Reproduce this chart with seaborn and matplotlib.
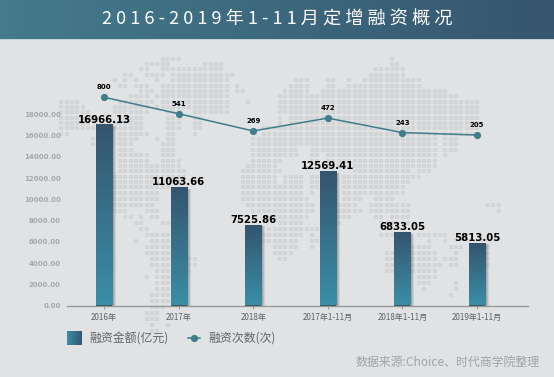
import numpy as np
import pandas as pd
import seaborn as sns
import matplotlib.pyplot as plt
from matplotlib.lines import Line2D
from matplotlib.patches import Rectangle

# values
categories = ["2016年", "2017年", "2018年", "2017年1-11月", "2018年1-11月", "2019年1-11月"]
amounts = [16966.13, 11063.66, 7525.86, 12569.41, 6833.05, 5813.05]
counts = [800, 541, 269, 472, 243, 205]
y_ticks = [0, 2000, 4000, 6000, 8000, 10000, 12000, 14000, 16000, 18000]

title = "2 0 1 6 - 2 0 1 9 年 1 - 1 1 月 定 增 融 资 概 况"
source = "数据来源:Choice、时代商学院整理"

# background world map, one entry per dot row, column spans
map_rows = [
    "30-33 73", "27-31 38-41 73-74", "26-27 30-41 70-75", "23-24 27-30 32-43 69-75",
    "21 23 25 29 32-42 55-57 61-62 65 68-78", "22-23 25-27 30-42 44 54-57 61-62 65-78",
    "26-28 30-42 44-45 53-57 60-83", "24-27 29-42 52-85", "11-14 22-28 30-42 46 52-89",
    "11-15 21-27 29-42 52-89", "11-16 21-27 31-33 36-42 52-89", "11-17 22-26 31-33 36-37 52 54-89",
    "11-16 21-26 31-33 36-37 52 54-89", "11-17 21-26 31-33 36-37 49-89", "11-12 22-27 31-32 36 49-81 83-88",
    "17 22-25 29 31-32 47-81 83-85", "17 22-24 30-32 47-81 83-85", "18 22-24 30-32 47-55 58-81 83-85",
    "22-27 30-32 47-55 58-59 61-81 83", "22-27 30-33 47-52 58-59 61-81", "22-33 46-51 61-81",
    "22-34 45-52 66-76 78-80", "21-34 45-51 53-56 58-59 64-76 77-78", "21-34 45-51 53-56 58-59 64-76",
    "21-31 45-56 58-59 64-75", "21-29 45-56 58 64-75", "21-29 45-57 64-67 70-73",
    "21-28 46-58 63-66 69-76 91-93", "21-23 27-29 47-58 63-67 69-76 93", "23-24 26 28-29 50-57 63-65 70-71 73-76",
    "25-26 30-31 52-56 63 71-76", "26-27 32 50-59", "27-32 49-56 58 71-73 78-83",
    "25 28-32 49-55 58-59 80 83", "27-32 51-55 58 77-80 84-86 91", "27-34 51-54 72-81 85 91",
    "28-36 52-53 72-81 83-85 91", "28-36 72-82 84-85 91", "29-35 72-81", "27 29-34 78-81",
    "29-33 78-80 85", "29-32 79 85", "28-32 84", "28-31", "28-30", "27-29", "27-29", "28 31", "28-29",
]

W, H = 554, 377
bg_color = "#e1e2e4"
teal = "#3f7d8c"
bar_top = np.array([53, 85, 111]) / 255
bar_bottom = np.array([58, 142, 165]) / 255


def gradient(start, end, n=64):
    return np.linspace(start, end, n)


def to_fig(x, y, w, h):
    return [x / W, 1 - (y + h) / H, w / W, h / H]


fig = plt.figure(figsize=(W / 100, H / 100), dpi=100, facecolor=bg_color)
plt.rcParams["font.family"] = ["Noto Sans CJK SC", "DejaVu Sans"]

# banner and dots sit on a pixel-sized axes behind the chart
bg = fig.add_axes([0, 0, 1, 1], zorder=0)
bg.set_xlim(0, W)
bg.set_ylim(H, 0)
bg.axis("off")
banner = gradient(np.array([68, 122, 140]) / 255, np.array([54, 86, 110]) / 255)[None, :, :]
bg.imshow(banner, extent=(0, W, 39, 0), aspect="auto", zorder=1)
bg.set_xlim(0, W)
bg.set_ylim(H, 0)
bg.add_patch(Rectangle((0, 39), W, 1.2, color="#c3d0d6", lw=0, zorder=2))

dots_x, dots_y = [], []
for r, row in enumerate(map_rows):
    y = 58.7 + 5.36 * r if r <= 25 else 192.7 + 6.03 * (r - 25)
    for span in row.split():
        a, b = (span.split("-") + [span])[:2]
        for c in range(int(a), int(b) + 1):
            dots_x.append((16 * c + 8) / 3)
            dots_y.append(y)
bg.scatter(dots_x, dots_y, marker="s", s=7, color="#d3d4d6", linewidths=0, zorder=1)
bg.text(W / 2 + 0.5, 19.5, title, color="white", fontsize=13.1, ha="center", va="center")

# main axes
ax_left, ax_right, ax_top, ax_bottom = 67, 527.7, 60, 305.5
ax = fig.add_axes(to_fig(ax_left, ax_top, ax_right - ax_left, ax_bottom - ax_top), zorder=1)
ax.patch.set_alpha(0)

df = pd.DataFrame({"category": categories, "amount": amounts, "count": counts})
sns.barplot(data=df, x="category", y="amount", width=0.2145, color=bar_top, ax=ax, zorder=3)
ax.set_xlim(-0.496, 5.68)
ax.set_ylim(0, 23138)

# swap the flat bars for a vertical gradient plus a soft shadow on the right
grad = gradient(bar_top, bar_bottom)[:, None, :]
for patch, value in zip(ax.patches, amounts):
    x0, w = patch.get_x(), patch.get_width()
    for i, alpha in enumerate([0.13, 0.16, 0.2, 0.25]):
        off = (4 - i) * 0.0135
        ax.add_patch(Rectangle((x0 + off, 0), w, value - 60, color="#555555", alpha=alpha, lw=0, zorder=2))
    ax.imshow(grad, extent=(x0, x0 + w, 0, value), aspect="auto", zorder=4)
    ax.text(x0 + w / 2, value + 80, f"{value:.2f}", ha="center", va="bottom", color="black",
            fontsize=7.25, fontweight="bold", family="DejaVu Sans", zorder=6)
ax.set_xlim(-0.496, 5.68)
ax.set_ylim(0, 23138)

ax.set_xlabel("")
ax.set_ylabel("")
ax.set_yticks(y_ticks)
ax.set_yticklabels([f"{v:.2f}" for v in y_ticks], fontsize=5, fontweight="bold",
                   color="#a6a7a9", family="DejaVu Sans")
ax.tick_params(axis="y", length=0, pad=4.5)
ax.tick_params(axis="x", length=2, width=0.7, color="#999999", labelsize=5.8, labelcolor="#5f6062", pad=3.5)
sns.despine(ax=ax, left=True)
ax.spines["bottom"].set_color("#999999")
ax.spines["bottom"].set_linewidth(1)

# the count line has its own scale
ax2 = ax.twinx()
ax2.patch.set_alpha(0)
sns.lineplot(data=df, x="category", y="count", sort=False, color=teal, linewidth=1.1, marker="o",
             markersize=5.2, markeredgewidth=0, ax=ax2, zorder=5)
ax2.set_ylim(-2484, 1388)
ax2.axis("off")
for i, c in enumerate(counts):
    ax2.annotate(str(c), (i, c), xytext=(0, 7), textcoords="offset pixels", ha="center", va="bottom",
                 fontsize=5, fontweight="bold", family="DejaVu Sans", color="black")

# legend drawn by hand so the swatch can carry the gradient
swatch = fig.add_axes(to_fig(67, 331, 14.5, 14), zorder=2)
swatch.imshow(gradient(bar_bottom, bar_top)[None, :, :], aspect="auto")
swatch.axis("off")
fig.text(89 / W, 1 - 338.5 / H, "融资金额(亿元)", fontsize=8.6, color="#636466", va="center")
fig.add_artist(Line2D([187.5 / W, 200 / W], [1 - 338 / H] * 2, color=teal, lw=1.1))
fig.add_artist(Line2D([193.7 / W], [1 - 338 / H], color=teal, marker="o", ms=5.2, mew=0))
fig.text(208.5 / W, 1 - 338.5 / H, "融资次数(次)", fontsize=8.6, color="#636466", va="center")
fig.text(540 / W, 1 - 362.5 / H, source, fontsize=8.6, color="#a2a3a5", ha="right", va="center")

fig.savefig("out.png", dpi=100, facecolor=bg_color)
